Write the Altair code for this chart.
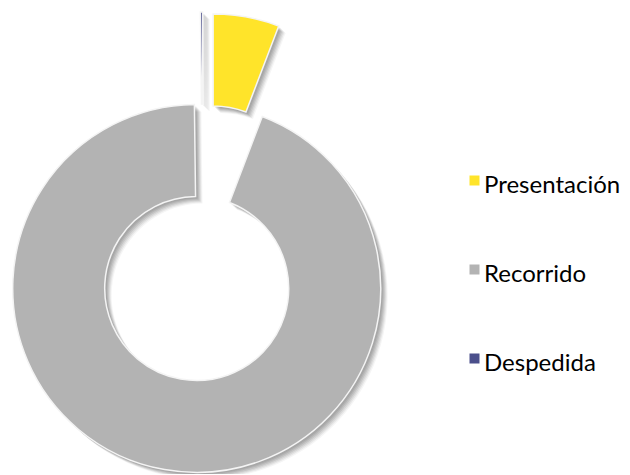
import math
import altair as alt
import pandas as pd

# ---- data ----
categories = ["Presentación", "Recorrido", "Despedida"]
values = [5.8, 94.0, 0.2]

# ---- styles ----
colors = ["#FFE42A", "#B3B3B3", "#4B4F8B"]
explode = [56, 36, 57]          # px each slice is pulled out of the pie
CX, CY = 195, 245               # pie centre in the plot area (px)
R_OUT, R_IN = 184, 92
TOTAL = sum(values)

df = pd.DataFrame({
    "category": categories,
    "value": values,
    "explode": explode,
    "order": list(range(len(categories))),
})

base = alt.Chart(df).transform_window(
    end="sum(value)", sort=[alt.SortField("order")], frame=[None, 0]
).transform_calculate(
    start="datum.end - datum.value",
    mid=f"(datum.end - datum.value/2) / {TOTAL} * 2 * PI",
).transform_calculate(
    px=f"{CX} + datum.explode * sin(datum.mid)",
    py=f"{CY} - datum.explode * cos(datum.mid)",
)

theta = alt.Theta("start:Q", stack=None,
                  scale=alt.Scale(domain=[0, TOTAL], range=[0, 2 * math.pi]))

layers = []
# soft drop shadow (several faint offset copies)
for d, op in [(2, 0.08), (3, 0.08), (4, 0.08), (5, 0.07), (6, 0.06), (7, 0.04)]:
    layers.append(
        base.transform_calculate(sx=f"datum.px + {d}", sy=f"datum.py + {d}")
        .mark_arc(outerRadius=R_OUT, innerRadius=R_IN, color="#000000", opacity=op)
        .encode(theta=theta, theta2="end:Q",
                x=alt.X("sx:Q", scale=None), y=alt.Y("sy:Q", scale=None))
    )

# square legend symbol drawn slightly above the label's middle
SYMBOL = "M-0.1,-2.1H1.9V-0.1H-0.1Z"

main = base.mark_arc(outerRadius=R_OUT, innerRadius=R_IN,
                     stroke="#F4F4F4", strokeWidth=1.5).encode(
    theta=theta,
    theta2="end:Q",
    x=alt.X("px:Q", scale=None),
    y=alt.Y("py:Q", scale=None),
    color=alt.Color(
        "category:N",
        scale=alt.Scale(domain=categories, range=colors),
        legend=alt.Legend(
            title=None, orient="none", legendX=450, legendY=166,
            symbolType=SYMBOL, symbolSize=100, symbolStrokeWidth=0,
            labelFontSize=24, labelFont="Lato", labelColor="#000000",
            rowPadding=65, labelOffset=2, padding=0,
        ),
    ),
)
layers.append(main)

chart = alt.layer(*layers).properties(
    width=614, height=466, padding=0, autosize=alt.AutoSizeParams(type="none")
).configure_view(stroke=None)

chart.save("out.html", embed_options={"renderer": "svg", "actions": False})
